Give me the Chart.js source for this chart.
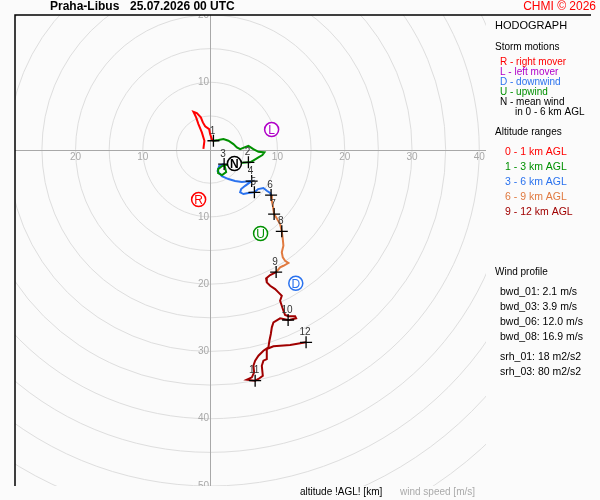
<!DOCTYPE html>
<html>
<head>
<meta charset="utf-8">
<script src="https://cdn.jsdelivr.net/npm/chart.js@4.4.1/dist/chart.umd.min.js"></script>
<style>
body { margin: 0; background: #fbfbfb; }
canvas { display: block; }
</style>
</head>
<body>
<canvas id="hodo" width="600" height="500"></canvas>
<script>
var vrstva0_1 = [[-1.0, 0.1], [-0.85, 1.31], [-1.23, 2.56], [-1.74, 3.79], [-2.08, 4.78], [-2.48, 5.62],
    [-1.98, 5.42], [-1.38, 4.78], [-1.08, 4.04], [-0.74, 3.45], [-0.15, 3.05], [0, 2.3], [0.3, 1.41], [0.49, 1.31]];
var vrstva1_3 = [[0.49, 1.31], [1.23, 1.41], [1.98, 1.56], [2.72, 1.31], [3.46, 0.82], [3.97, 0.33], [4.46, 0.07],
    [5.1, 0.33], [5.69, 0.56], [6.43, 0.07], [7.18, -0.33], [8.07, -0.42], [7.77, -0.82], [7.18, -1.16],
    [6.58, -1.52], [5.94, -1.9], [5.69, -1.9], [4.46, -2.01], [2.97, -2.15], [1.78, -2.45], [1.19, -2.9],
    [1.19, -3.49], [1.78, -3.79], [2.38, -3.34], [2.08, -2.15]];
var vrstva3_6 = [[2.08, -2.15], [1.34, -2.45], [1.11, -3.19], [1.74, -3.94], [2.72, -4.38], [3.71, -4.68],
    [4.71, -4.83], [6.17, -4.68], [5.2, -5.39], [4.61, -5.87], [4.46, -6.36], [4.95, -6.61], [5.69, -6.46],
    [6.58, -6.36], [7.13, -5.87], [7.92, -5.72], [8.42, -6.12], [8.92, -6.46], [9.06, -6.76]];
var vrstva6_9 = [[9.06, -6.76], [9.17, -7.61], [9.32, -8.35], [9.51, -9.58], [9.96, -10.33], [10.4, -11.07],
    [10.65, -12.15], [10.8, -13.3], [10.89, -14.29], [10.65, -15.27], [10.8, -16.02], [11.14, -16.52],
    [11.63, -16.86], [10.89, -17.27], [10.4, -17.5], [9.81, -18.2]];
var vrstva9_12 = [[9.81, -18.2], [8.92, -18.65], [8.32, -19.14], [8.42, -19.73], [8.92, -20.24], [9.66, -20.73],
    [10.15, -21.22], [10.65, -21.72], [10.4, -22.47], [10.65, -23.21], [10.89, -23.95], [11.14, -24.59],
    [11.63, -24.78], [12.63, -24.78], [12.78, -25.08], [11.89, -25.29], [11.59, -25.33], [10.4, -25.08],
    [9.41, -25.68], [9.17, -26.42], [9.02, -27.41], [8.81, -28.41], [8.66, -29.39], [7.92, -29.9],
    [7.18, -30.64], [6.69, -31.38], [6.43, -32.13], [6.54, -33.11], [6.2, -33.85], [5.45, -34.21],
    [6.69, -34.35], [7.18, -34.1], [7.83, -33.61], [7.68, -32.13], [7.92, -31.38], [8.42, -31.13],
    [8.42, -29.64], [9.41, -29.24], [11.89, -29.05], [14.26, -28.65]];

// wind at each km AGL
var kmBody = [[0.49, 1.31], [5.69, -1.9], [2.08, -2.15], [6.17, -4.68], [6.58, -6.36], [9.06, -6.76],
    [9.51, -9.58], [10.65, -12.15], [9.81, -18.2], [11.59, -25.33], [6.69, -34.35], [14.26, -28.65]];
var kmPopisky = ['1', '2', '3', '4', '5', '6', '7', '8', '9', '10', '11', '12'];

// storm motions
var pohybBouri = [[-1.71, -7.43], [9.14, 2.97], [3.61, -2.08], [7.5, -12.48], [12.73, -19.88]];
var pohybPismena = ['R', 'L', 'N', 'U', 'D'];

var krouzky = [5, 10, 15, 20, 25, 30, 35, 40, 45, 50, 55, 60, 65];
var popiskyX = [-20, -10, 10, 20, 30, 40];
var popiskyY = [20, 10, -10, -20, -30, -40, -50];

var barvyVrstev = ['#ff0000', '#009000', '#2a72ee', '#e07a40', '#a00000'];
var barvyPohybu = ['#ff0000', '#b000c8', '#000000', '#009000', '#2a72ee'];
var pismo = '"Liberation Sans", Arial, sans-serif';

function naBody(pole) {
    return pole.map(function (p) { return { x: p[0], y: p[1] }; });
}

var vrstvy = [vrstva0_1, vrstva1_3, vrstva3_6, vrstva6_9, vrstva9_12];
var datasety = vrstvy.map(function (v, i) {
    return { data: naBody(v), showLine: true, borderColor: barvyVrstev[i], borderWidth: 2, pointRadius: 0, order: 3 };
});
datasety.push({ data: naBody(kmBody), pointStyle: 'cross', pointRadius: 6, borderColor: '#000', borderWidth: 1.3, order: 2 });
datasety.push({ data: naBody(pohybBouri), pointStyle: 'circle', pointRadius: 7, backgroundColor: '#ffffff',
    borderColor: barvyPohybu, borderWidth: 1.5, order: 1 });

function text(ctx, s, x, y, barva, velikost, tucne) {
    ctx.fillStyle = barva;
    ctx.font = (tucne ? 'bold ' : '') + velikost + 'px ' + pismo;
    ctx.fillText(s, x, y);
}

var pozadi = {
    id: 'pozadi',
    beforeDraw: function (chart) {
        var ctx = chart.ctx;
        ctx.save();
        ctx.fillStyle = '#fbfbfb';
        ctx.fillRect(0, 0, chart.width, chart.height);
        ctx.restore();
    },
    beforeDatasetsDraw: function (chart) {
        var ctx = chart.ctx, a = chart.chartArea, sx = chart.scales.x, sy = chart.scales.y;
        var cx = sx.getPixelForValue(0), cy = sy.getPixelForValue(0);
        ctx.save();
        ctx.beginPath();
        ctx.rect(a.left, a.top, a.right - a.left, a.bottom - a.top);
        ctx.clip();
        ctx.strokeStyle = '#dedede';
        ctx.lineWidth = 1;
        krouzky.forEach(function (s) {
            var r = sx.getPixelForValue(s) - cx;
            ctx.beginPath();
            ctx.arc(cx, cy, r, 0, 2 * Math.PI);
            ctx.stroke();
        });
        ctx.strokeStyle = '#a8a8a8';
        ctx.beginPath();
        ctx.moveTo(a.left, Math.round(cy) + 0.5);
        ctx.lineTo(a.right, Math.round(cy) + 0.5);
        ctx.moveTo(Math.round(cx) + 0.5, a.top);
        ctx.lineTo(Math.round(cx) + 0.5, a.bottom);
        ctx.stroke();
        ctx.textAlign = 'center';
        ctx.textBaseline = 'top';
        popiskyX.forEach(function (v) {
            text(ctx, String(Math.abs(v)), sx.getPixelForValue(v), cy + 3, '#a8a8a8', 10);
        });
        ctx.textAlign = 'right';
        ctx.textBaseline = 'middle';
        popiskyY.forEach(function (v) {
            text(ctx, String(Math.abs(v)), cx - 1, sy.getPixelForValue(v), '#a8a8a8', 10);
        });
        ctx.restore();

        ctx.save();
        ctx.strokeStyle = '#000';
        ctx.lineWidth = 1.5;
        ctx.beginPath();
        ctx.moveTo(a.left, a.bottom);
        ctx.lineTo(a.left, a.top);
        ctx.lineTo(591, a.top);
        ctx.stroke();
        ctx.restore();
    },
    afterDatasetsDraw: function (chart) {
        var ctx = chart.ctx, sx = chart.scales.x, sy = chart.scales.y;
        ctx.save();
        ctx.textAlign = 'center';
        ctx.textBaseline = 'middle';
        kmBody.forEach(function (p, i) {
            text(ctx, kmPopisky[i], sx.getPixelForValue(p[0]) - 1, sy.getPixelForValue(p[1]) - 10, '#333333', 10);
        });
        pohybBouri.forEach(function (p, i) {
            text(ctx, pohybPismena[i], sx.getPixelForValue(p[0]), sy.getPixelForValue(p[1]) + 1,
                barvyPohybu[i], 12, pohybPismena[i] === 'N');
        });
        ctx.restore();
    },
    afterDraw: function (chart) {
        var ctx = chart.ctx;
        ctx.save();
        ctx.textBaseline = 'middle';
        ctx.textAlign = 'left';
        text(ctx, 'Praha-Libus', 50, 7, '#000', 12, true);
        text(ctx, '25.07.2026 00 UTC', 130, 7, '#000', 12, true);
        text(ctx, 'HODOGRAPH', 495, 26, '#000', 11);
        text(ctx, 'Storm motions', 495, 47, '#000', 10);
        text(ctx, 'R - right mover', 500, 62, '#ff0000', 10);
        text(ctx, 'L - left mover', 500, 72, '#b000c8', 10);
        text(ctx, 'D - downwind', 500, 82, '#2a72ee', 10);
        text(ctx, 'U - upwind', 500, 92, '#009000', 10);
        text(ctx, 'N - mean wind', 500, 102, '#000', 10);
        text(ctx, 'in 0 - 6 km AGL', 515, 112, '#000', 10);
        text(ctx, 'Altitude ranges', 495, 132, '#000', 10);
        var rozsahy = ['0 - 1 km AGL', '1 - 3 km AGL', '3 - 6 km AGL', '6 - 9 km AGL', '9 - 12 km AGL'];
        rozsahy.forEach(function (s, i) {
            text(ctx, s, 505, 152 + i * 15, barvyVrstev[i], 10.5);
        });
        text(ctx, 'Wind profile', 495, 272, '#000', 10);
        var profil = ['bwd_01: 2.1 m/s', 'bwd_03: 3.9 m/s', 'bwd_06: 12.0 m/s', 'bwd_08: 16.9 m/s'];
        profil.forEach(function (s, i) {
            text(ctx, s, 500, 292 + i * 15, '#000', 10.5);
        });
        text(ctx, 'srh_01: 18 m2/s2', 500, 357, '#000', 10.5);
        text(ctx, 'srh_03: 80 m2/s2', 500, 372, '#000', 10.5);
        text(ctx, 'altitude !AGL! [km]', 300, 492, '#000', 10);
        text(ctx, 'wind speed [m/s]', 400, 492, '#aaaaaa', 10);
        ctx.textAlign = 'right';
        text(ctx, 'CHMI \u00a9 2026', 596, 7, '#ff0000', 12);
        ctx.restore();
    }
};

new Chart(document.getElementById('hodo').getContext('2d'), {
    type: 'scatter',
    data: { datasets: datasety },
    options: {
        responsive: false,
        animation: false,
        events: [],
        layout: { padding: { left: 15, top: 15, right: 114, bottom: 14 } },
        plugins: { legend: { display: false }, tooltip: { enabled: false } },
        scales: {
            x: { type: 'linear', min: -29, max: 41, display: false },
            y: { type: 'linear', min: -50, max: 20, display: false }
        }
    },
    plugins: [pozadi]
});
</script>
</body>
</html>
